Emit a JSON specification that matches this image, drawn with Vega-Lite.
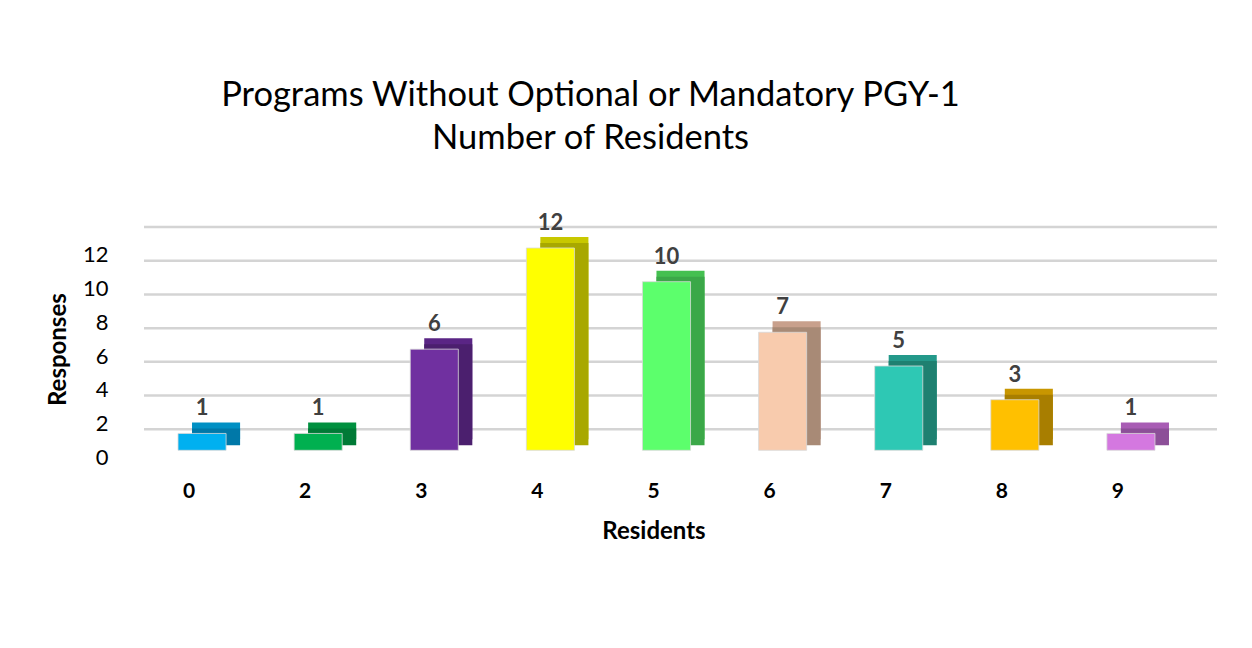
{
  "$schema": "https://vega.github.io/schema/vega-lite/v6.json",
  "width": 1045,
  "height": 202.3,
  "autosize": {"type": "none"},
  "padding": {"left": 144, "top": 248, "right": 63, "bottom": 198},
  "background": "white",
  "title": {
    "text": ["Programs Without Optional or Mandatory PGY-1", "Number of Residents"],
    "font": "Lato", "fontSize": 34.5, "fontWeight": "normal", "color": "#000000",
    "anchor": "middle", "dx": -76, "offset": 55, "lineHeight": 43
  },
  "config": {"view": {"stroke": null}},
  "datasets": {
    "bars": [
      {"Residents": "0", "Responses": 1},
      {"Residents": "2", "Responses": 1},
      {"Residents": "3", "Responses": 6},
      {"Residents": "4", "Responses": 12},
      {"Residents": "5", "Responses": 10},
      {"Residents": "6", "Responses": 7},
      {"Residents": "7", "Responses": 5},
      {"Residents": "8", "Responses": 3},
      {"Residents": "9", "Responses": 1}
    ],
    "grid": [{"Responses": 0}, {"Responses": 2}, {"Responses": 4}, {"Responses": 6}, {"Responses": 8}, {"Responses": 10}, {"Responses": 12}]
  },
  "encoding": {
    "y": {"field": "Responses", "type": "quantitative", "scale": {"domain": [0, 12], "nice": false},
      "axis": {"title": "Responses", "values": [0, 2, 4, 6, 8, 10, 12], "domain": false, "ticks": false, "grid": false,
        "labelFont": "Lato", "labelFontSize": 22, "labelColor": "#000000", "labelOffset": 7, "labelPadding": 36,
        "titleFont": "Lato", "titleFontSize": 24, "titleFontWeight": "bold", "titleColor": "#000000", "titlePadding": 12}}
  },
  "layer": [
    {
      "data": {"name": "grid"},
      "mark": {"type": "rule", "xOffset": 28, "yOffset": -21, "stroke": "#d4d4d4", "strokeWidth": 2.5}
    },
    {
      "data": {"name": "bars"},
      "encoding": {
        "x": {"field": "Residents", "type": "nominal", "sort": null,
          "scale": {"paddingInner": 0.586, "paddingOuter": 0.293},
          "axis": {"title": "Residents", "labelAngle": 0, "domain": false, "ticks": false, "grid": false,
            "labelFont": "Lato", "labelFontSize": 21, "labelFontWeight": "bold", "labelColor": "#000000",
            "labelOffset": -13, "labelPadding": 30,
            "titleFont": "Lato", "titleFontSize": 24, "titleFontWeight": "bold", "titleColor": "#000000",
            "titlePadding": 18, "titleX": 509.5}}
      },
      "resolve": {"scale": {"color": "independent"}},
      "layer": [
        {
          "mark": {"type": "bar", "xOffset": 14, "yOffset": -11},
          "encoding": {
            "color": {"field": "Residents", "type": "nominal", "sort": null, "legend": null,
              "scale": {"domain": ["0","2","3","4","5","6","7","8","9"],
                "range": ["#0090c4", "#00903f", "#5a2585", "#c8c800", "#44c050", "#c8a08c", "#23998a", "#c89600", "#a85cb4"]}}
          }
        },
        {
          "mark": {"type": "bar", "xOffset": 14, "yOffset": -5},
          "encoding": {
            "color": {"field": "Residents", "type": "nominal", "sort": null, "legend": null,
              "scale": {"domain": ["0","2","3","4","5","6","7","8","9"],
                "range": ["#0078a8", "#007a36", "#4b1f6e", "#a8a800", "#3ba848", "#a88a76", "#1e8070", "#a87e00", "#8c4f98"]}}
          }
        },
        {
          "mark": {"type": "bar", "stroke": "#d9d9d9", "strokeWidth": 0.8},
          "encoding": {
            "color": {"field": "Residents", "type": "nominal", "sort": null, "legend": null,
              "scale": {"domain": ["0","2","3","4","5","6","7","8","9"],
                "range": ["#00b0f0", "#00b050", "#7030a0", "#ffff00", "#5cff6c", "#f8cbad", "#2ec8b4", "#ffc000", "#d478e0"]}}
          }
        },
        {
          "mark": {"type": "text", "font": "Lato", "fontSize": 22, "fontWeight": "bold", "color": "#404040", "baseline": "middle", "dy": -25},
          "encoding": {
            "text": {"field": "Responses", "type": "quantitative"}
          }
        }
      ]
    }
  ]
}
